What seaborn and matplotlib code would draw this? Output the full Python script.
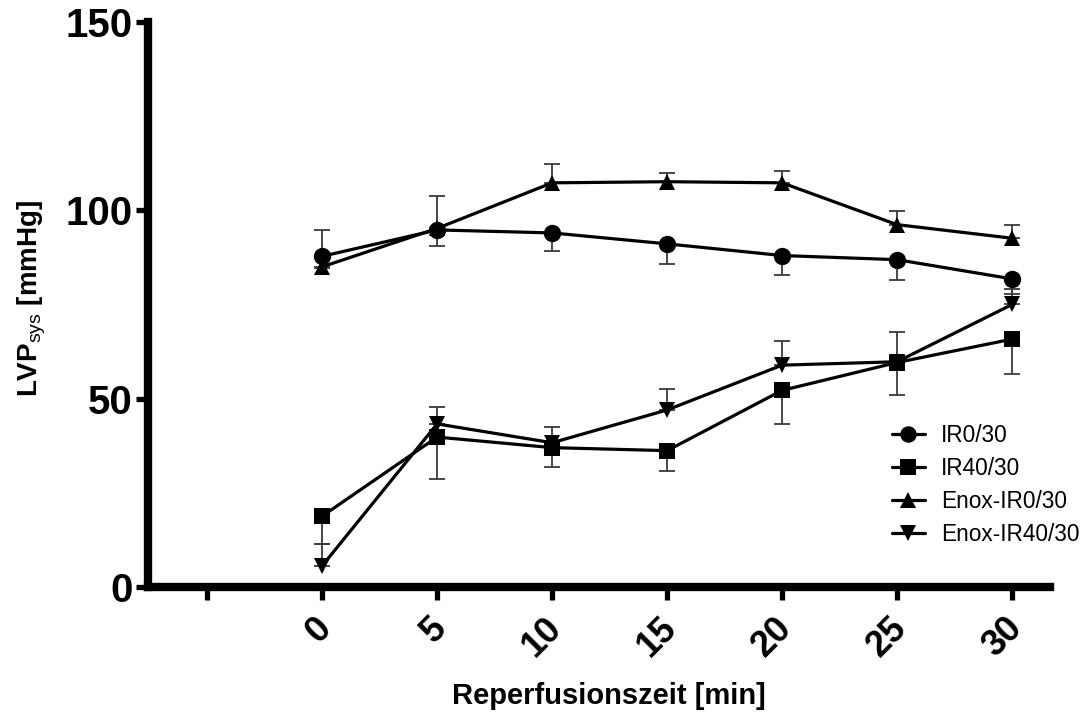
import matplotlib
matplotlib.use("Agg")
import matplotlib.pyplot as plt
import matplotlib.transforms as mtransforms
import seaborn as sns
import pandas as pd
from matplotlib.lines import Line2D

# ---- data ----
times = [0, 5, 10, 15, 20, 25, 30]
groups = ["IR0/30", "IR40/30", "Enox-IR0/30", "Enox-IR40/30"]
ir0 = [87.8, 94.8, 94.0, 91.1, 88.0, 86.9, 81.8]
ir0_err = [3.0, 4.2, 4.9, 5.3, 5.2, 5.3, 4.0]          # drawn downward
ir40 = [18.8, 39.8, 37.0, 36.2, 52.2, 59.6, 65.8]
ir40_err = [7.4, 11.1, 5.1, 5.5, 8.8, 8.5, 9.3]        # drawn downward
enox0 = [85.0, 95.2, 107.3, 107.6, 107.3, 96.2, 92.6]
enox0_err = [9.9, 8.7, 5.0, 2.3, 3.2, 3.5, 3.4]        # drawn upward
enox40 = [5.6, 43.3, 38.3, 47.0, 58.9, 59.8, 75.0]
enox40_err = [5.8, 4.5, 4.1, 5.5, 6.4, 8.0, 4.0]       # drawn upward
xtick_vals = [-5, 0, 5, 10, 15, 20, 25, 30]
xtick_labels = ["", "0", "5", "10", "15", "20", "25", "30"]
ytick_vals = [0, 50, 100, 150]

series = {"IR0/30": ir0, "IR40/30": ir40, "Enox-IR0/30": enox0, "Enox-IR40/30": enox40}
errs = {"IR0/30": (ir0_err, "down"), "IR40/30": (ir40_err, "down"),
        "Enox-IR0/30": (enox0_err, "up"), "Enox-IR40/30": (enox40_err, "up")}
markers = {"IR0/30": "o", "IR40/30": "s", "Enox-IR0/30": "^", "Enox-IR40/30": "v"}
msizes = {"IR0/30": 12.5, "IR40/30": 11.5, "Enox-IR0/30": 12, "Enox-IR40/30": 12}

df = pd.DataFrame([{"t": t, "v": v, "g": g} for g in groups for t, v in zip(times, series[g])])

sns.set_theme(style="ticks")
plt.rcParams["font.family"] = ["Liberation Sans", "DejaVu Sans"]
plt.rcParams["mathtext.fontset"] = "custom"
plt.rcParams["mathtext.rm"] = "Liberation Sans"
plt.rcParams["mathtext.bf"] = "Liberation Sans:bold"
plt.rcParams["text.color"] = "black"
plt.rcParams["axes.labelcolor"] = "black"
plt.rcParams["xtick.color"] = "black"
plt.rcParams["ytick.color"] = "black"

fig = plt.figure(figsize=(10.85, 7.17), dpi=100)
ax = fig.add_axes([148 / 1085, 1 - 587 / 717, (1050 - 148) / 1085, (587 - 22) / 717])

# error bars (one-sided)
for g in groups:
    e, d = errs[g]
    lo = e if d == "down" else [0] * len(e)
    hi = e if d == "up" else [0] * len(e)
    ax.errorbar(times, series[g], yerr=[lo, hi], fmt="none", ecolor="#3a3a3a",
                elinewidth=1.3, capsize=6, capthick=1.3, zorder=2)

for g in groups:
    sub = df[df["g"] == g]
    sns.lineplot(data=sub, x="t", y="v", ax=ax, color="black", linewidth=2.3,
                 marker=markers[g], markersize=msizes[g], markeredgewidth=0,
                 markerfacecolor="black", legend=False, zorder=3, clip_on=False)

ax.set_xlim(-7.57, 31.65)
ax.set_ylim(0, 150)
ax.set_xticks(xtick_vals)
ax.set_xticklabels(xtick_labels, rotation=45, ha="right", va="top",
                   rotation_mode="anchor", fontsize=26, fontweight="bold", color="black")
ax.set_yticks(ytick_vals)
ax.set_yticklabels([str(v) for v in ytick_vals], fontsize=29, fontweight="bold", color="black")

for s in ["top", "right"]:
    ax.spines[s].set_visible(False)
for s in ["left", "bottom"]:
    ax.spines[s].set_linewidth(6)
    ax.spines[s].set_color("black")
ax.tick_params(axis="both", width=3.8, length=9, color="black", pad=2)
ax.tick_params(axis="x", pad=8)

offset = mtransforms.ScaledTranslation(-8 / 100, 0, fig.dpi_scale_trans)
for lbl in ax.get_xticklabels():
    lbl.set_transform(lbl.get_transform() + offset)

ax.set_xlabel("Reperfusionszeit [min]", fontsize=21, fontweight="bold", color="black")
ax.set_ylabel(r"LVP$_{\mathrm{sys}}$ [mmHg]", fontsize=20, fontweight="bold", color="black")
ax.xaxis.set_label_coords(0.511, -0.169)
ax.yaxis.set_label_coords(-0.111, 0.51)

handles = [Line2D([0], [0], color="black", linewidth=2.3, marker=markers[g],
                  markersize=msizes[g] * 0.95, markeredgewidth=0) for g in groups]
fig.legend(handles, groups, loc="upper left", bbox_to_anchor=(892 / 1085, 1 - 424 / 717),
           frameon=False, fontsize=16.3, handlelength=1.45, handletextpad=0.72,
           labelspacing=0.44, borderpad=0, borderaxespad=0, labelcolor="black")

fig.savefig("out.png", dpi=100)
